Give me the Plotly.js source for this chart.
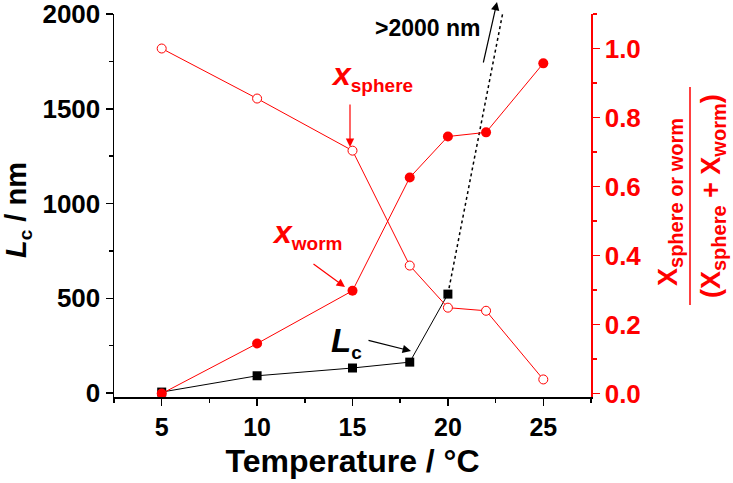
<!DOCTYPE html>
<html>
<head>
<meta charset="utf-8">
<script src="https://cdn.plot.ly/plotly-3.0.1.min.js"></script>
<style>html,body{margin:0;padding:0;background:#fff;}#chart{width:733px;height:483px;}</style>
</head>
<body>
<div id="chart"></div>
<script>
// ---- data ----
const temps = [5, 10, 15, 18, 20, 22, 25];
const xWorm = [0.0, 0.145, 0.298, 0.626, 0.745, 0.757, 0.957];
const xSphere = [1.0, 0.855, 0.704, 0.371, 0.249, 0.240, 0.041];
const lcTemps = [5, 10, 15, 18, 20];
const lcValues = [5, 91, 132, 163, 522];
const lcExtrapTemps = [20, 23];
const lcExtrapValues = [522, 2070];
const xTickVals = [5, 10, 15, 20, 25];
const yTickVals = [0, 500, 1000, 1500, 2000];
const y2TickVals = [0.0, 0.2, 0.4, 0.6, 0.8, 1.0];

const RED = '#ff0000';
const FONT = 'Arial, "Liberation Sans", sans-serif';

const traces = [
  {x: lcExtrapTemps, y: lcExtrapValues, mode: 'lines', yaxis: 'y',
   line: {color: 'black', width: 1.5, dash: 'dot'}, showlegend: false, hoverinfo: 'skip'},
  {x: lcTemps, y: lcValues, mode: 'lines+markers', yaxis: 'y', name: 'Lc',
   line: {color: 'black', width: 1}, marker: {symbol: 'square', size: 9, color: 'black'}, showlegend: false},
  {x: temps, y: xSphere, mode: 'lines+markers', yaxis: 'y2', name: 'x sphere',
   line: {color: RED, width: 1}, marker: {symbol: 'circle', size: 9, color: 'white', line: {color: RED, width: 1}}, showlegend: false},
  {x: temps, y: xWorm, mode: 'lines+markers', yaxis: 'y2', name: 'x worm',
   line: {color: RED, width: 1}, marker: {symbol: 'circle', size: 10, color: RED}, showlegend: false}
];

const px = v => (v - 114) / 477;
const py = v => (397 - v) / 383;

const annotations = [
  // arrows
  {xref: 'paper', yref: 'paper', x: px(350), y: py(147), ax: 0, ay: -44, text: '', showarrow: true,
   arrowcolor: RED, arrowhead: 2, arrowsize: 1.4, arrowwidth: 1.2},
  {xref: 'paper', yref: 'paper', x: px(345), y: py(287), ax: -33, ay: -24, text: '', showarrow: true,
   arrowcolor: RED, arrowhead: 2, arrowsize: 1.4, arrowwidth: 1.2},
  {xref: 'paper', yref: 'paper', x: px(411), y: py(351), ax: -44, ay: -11, text: '', showarrow: true,
   arrowcolor: 'black', arrowhead: 2, arrowsize: 1.4, arrowwidth: 1.2},
  {xref: 'paper', yref: 'paper', x: px(497), y: py(2), ax: -14, ay: 62, text: '', showarrow: true,
   arrowcolor: 'black', arrowhead: 2, arrowsize: 1.4, arrowwidth: 1.2},
  // labels
  {xref: 'paper', yref: 'paper', x: px(428), y: py(28), text: '<b>&gt;2000 nm</b>', showarrow: false,
   font: {family: FONT, size: 23, color: 'black'}, xanchor: 'center', yanchor: 'middle'},
  {xref: 'paper', yref: 'paper', x: px(372), y: py(76), text: '<b><i>x</i><sub><span style="font-size:19px">sphere</span></sub></b>', showarrow: false,
   font: {family: FONT, size: 32, color: RED}, xanchor: 'center', yanchor: 'middle'},
  {xref: 'paper', yref: 'paper', x: px(307), y: py(234), text: '<b><i>x</i><sub><span style="font-size:19px">worm</span></sub></b>', showarrow: false,
   font: {family: FONT, size: 32, color: RED}, xanchor: 'center', yanchor: 'middle'},
  {xref: 'paper', yref: 'paper', x: px(346), y: py(342), text: '<b><i>L</i><sub><span style="font-size:19px">c</span></sub></b>', showarrow: false,
   font: {family: FONT, size: 33, color: 'black'}, xanchor: 'center', yanchor: 'middle'},
  // left axis title
  {xref: 'paper', yref: 'paper', x: px(18), y: py(210), textangle: -90,
   text: '<b><i>L</i><sub><span style="font-size:19px">c</span></sub> / nm</b>', showarrow: false,
   font: {family: FONT, size: 29, color: 'black'}, xanchor: 'center', yanchor: 'middle'},
  // right axis fraction title
  {xref: 'paper', yref: 'paper', x: px(670), y: py(202), textangle: -90,
   text: '<b>X<sub><span style="font-size:20px">sphere or worm</span></sub></b>', showarrow: false,
   font: {family: FONT, size: 27, color: RED}, xanchor: 'center', yanchor: 'middle'},
  {xref: 'paper', yref: 'paper', x: px(713), y: py(196), textangle: -90,
   text: '<b>(X<sub><span style="font-size:20px">sphere</span></sub> + X<sub><span style="font-size:20px">worm</span></sub>)</b>', showarrow: false,
   font: {family: FONT, size: 27, color: RED}, xanchor: 'center', yanchor: 'middle'}
];

const shapes = [
  {type: 'line', xref: 'paper', yref: 'paper', x0: px(690), x1: px(690), y0: py(87), y1: py(305),
   line: {color: RED, width: 1.5}}
];

const layout = {
  width: 733, height: 483,
  margin: {l: 114, r: 142, t: 14, b: 86, pad: 0},
  paper_bgcolor: 'white', plot_bgcolor: 'white',
  showlegend: false,
  font: {family: FONT},
  xaxis: {
    range: [2.5, 27.5], tickvals: xTickVals, ticktext: xTickVals.map(String),
    showline: true, linecolor: 'black', linewidth: 1.5, ticks: 'outside', ticklen: 7, tickwidth: 1.5, tickcolor: 'black',
    minor: {dtick: 2.5, tick0: 2.5, ticks: 'outside', ticklen: 4, tickwidth: 1.5, tickcolor: 'black'},
    showgrid: false, zeroline: false,
    tickfont: {family: FONT, size: 25, color: 'black', weight: 'bold'},
    title: {text: '<b>Temperature / °C</b>', font: {family: FONT, size: 32, color: 'black'}, standoff: 10}
  },
  yaxis: {
    range: [-21, 2000], tickvals: yTickVals, ticktext: yTickVals.map(String),
    showline: true, linecolor: 'black', linewidth: 1.5, ticks: 'outside', ticklen: 7, tickwidth: 1.5, tickcolor: 'black',
    minor: {dtick: 250, tick0: 0, ticks: 'outside', ticklen: 4, tickwidth: 1.5, tickcolor: 'black'},
    showgrid: false, zeroline: false, ticklabeloverflow: 'allow',
    tickfont: {family: FONT, size: 26, color: 'black', weight: 'bold'}
  },
  yaxis2: {
    overlaying: 'y', side: 'right', anchor: 'x',
    range: [-0.0099, 1.1], tickvals: y2TickVals, ticktext: y2TickVals.map(v => v.toFixed(1)),
    showline: true, linecolor: RED, linewidth: 1.5, ticks: 'outside', ticklen: 7, tickwidth: 1.5, tickcolor: RED,
    minor: {dtick: 0.1, tick0: 0, ticks: 'outside', ticklen: 4, tickwidth: 1.5, tickcolor: RED},
    showgrid: false, zeroline: false, ticklabeloverflow: 'allow',
    tickfont: {family: FONT, size: 26, color: RED, weight: 'bold'}
  },
  annotations: annotations,
  shapes: shapes
};

Plotly.newPlot('chart', traces, layout, {staticPlot: true, displayModeBar: false});
</script>
</body>
</html>
